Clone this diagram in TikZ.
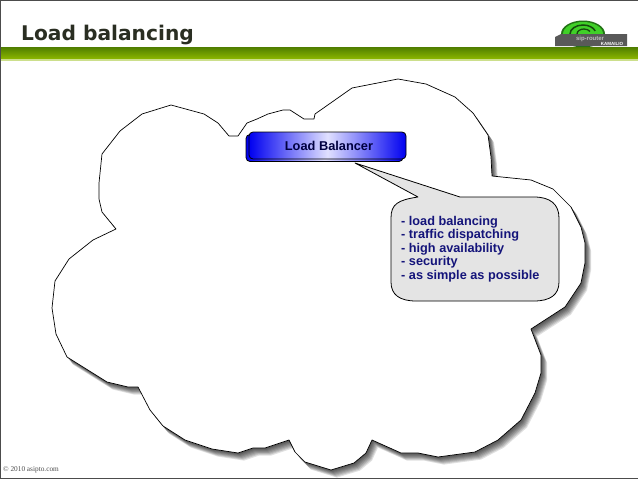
\documentclass[tikz,border=0pt]{standalone}
\usepackage{fontspec}
\setmainfont{Liberation Sans}
\newfontfamily\titlefont{DejaVu Sans}
\newfontfamily\footfont{Liberation Serif}
\definecolor{barTop}{HTML}{4F7D00}
\definecolor{barLow}{HTML}{8DB800}
\definecolor{titleInk}{HTML}{2A2E22}
\definecolor{noteInk}{HTML}{14147A}
\definecolor{noteFill}{HTML}{E4E4E4}
\definecolor{lbBlue}{HTML}{0000F0}
\definecolor{logoGreen}{HTML}{40D028}
\newcommand{\cloudshape}{(116,229) -- (102,212) -- (99,199) -- (99,183) -- (102,154) -- (120,131) -- (142,114) -- (171,105) -- (204,114) -- (218,123) -- (229,136) -- (238,136) -- (247,123) -- (257,119) -- (268,114) -- (283,110) -- (290,110) -- (304,119) -- (314,119) -- (315,114) -- (352,88) -- (398,79) -- (426,84) -- (455,97) -- (473,113) -- (488,135) -- (491,157) -- (492,176) -- (531,180) -- (553,189) -- (571,207) -- (581,227) -- (585,243) -- (585,263) -- (581,283) -- (565,307) -- (531,329) -- (541,355) -- (541,373) -- (535,393) -- (521,420) -- (498,440) -- (475,452) -- (438,457) -- (418,453) -- (401,453) -- (372,440) -- (366,453) -- (354,463) -- (331,470) -- (318,466) -- (305,462) -- (295,452) -- (289,440) -- (265,448) -- (253,448) -- (238,453) -- (212,449) -- (185,440) -- (163,426) -- (150,410) -- (138,387) -- (128,387) -- (107,382) -- (67,357) -- (56,334) -- (52,308) -- (55,281) -- (69,259) -- (93,240) -- cycle}
\tikzset{
  lbbox/.style={draw=black, line width=0.8pt, rounded corners=4pt, left color=lbBlue, right color=lbBlue, middle color=white!88!blue, minimum width=157pt, minimum height=27pt},
  notetext/.style={font=\fontsize{12.7}{13.5}\selectfont\bfseries, text=noteInk, align=left, inner sep=0pt, anchor=north west}
}
\begin{document}
\begin{tikzpicture}[x=1pt,y=-1pt]
\useasboundingbox (0,0) rectangle (638,479);
\fill[white] (0,0) rectangle (638,479);

\fill[logoGreen!55!black] (583,34) ellipse (22 and 13.5);
\fill[logoGreen] (583,34) ellipse (20 and 12);
\draw[logoGreen!35!black, line width=1.5pt] (570,34) arc (180:340:13 and 9);
\draw[logoGreen!35!black, line width=1.3pt] (577,34) arc (180:330:7 and 5);
\fill[black!65] (555,37) -- (561,34) -- (627,34) -- (627,46) -- (555,46) -- cycle;
\node[font=\fontsize{4.5}{5}\selectfont\bfseries, text=white, inner sep=0pt] (logotext) at (612,43.5) {KAMAILIO};
\node[font=\fontsize{6}{7}\selectfont\bfseries, text=black!25, inner sep=0pt] (logoname) at (590,38.5) {sip-router};

\shade[top color=barTop, bottom color=barLow] (1,47) rectangle (638,59);
\fill[barLow!45!white] (1,59) rectangle (638,60.5);

\node[font=\titlefont\fontsize{20.2}{24}\selectfont\bfseries, text=titleInk, inner sep=0pt, anchor=base west] (title) at (21,41) {Load balancing};

\foreach \s in {8,7,6,5,4,3,2,1}{
  \fill[black, opacity=0.12, xshift=\s*0.75pt, yshift=-\s*0.95pt] \cloudshape;
}
\filldraw[draw=black, fill=white, line width=0.7pt, line join=round] \cloudshape;

\node[lbbox] (lbback) at (324.5,148) {};
\node[lbbox] (lb) at (327.5,145.5) {};
\node[font=\fontsize{12.8}{14}\selectfont\bfseries, text=black!75!blue, inner sep=0pt] (lblabel) at (329,146) {Load Balancer};

\filldraw[draw=black, fill=noteFill, line width=0.8pt, line join=round] (355,163) -- (418,197) .. controls (398,200) and (391,204) .. (391,218) -- (391,282) .. controls (391,295) and (400,301) .. (416,301) -- (534,301) .. controls (550,301) and (559,295) .. (559,282) -- (559,218) .. controls (559,204) and (550,197) .. (534,197) -- (460,197) -- cycle;
\node[notetext] (notes) at (401,216) {- load balancing\\- traffic dispatching\\- high availability\\- security\\- as simple as possible};

\node[font=\footfont\fontsize{7.3}{10}\selectfont, text=black!70, inner sep=0pt, anchor=base west] (copyright) at (3,471) {© 2010 asipto.com};

\draw[black!70, line width=1.2pt] (0,0.5) -- (638,0.5);
\draw[black!70, line width=1.2pt] (0.5,0) -- (0.5,479);
\draw[black!70, line width=1.2pt] (0,478.4) -- (638,478.4);
\end{tikzpicture}
\end{document}
